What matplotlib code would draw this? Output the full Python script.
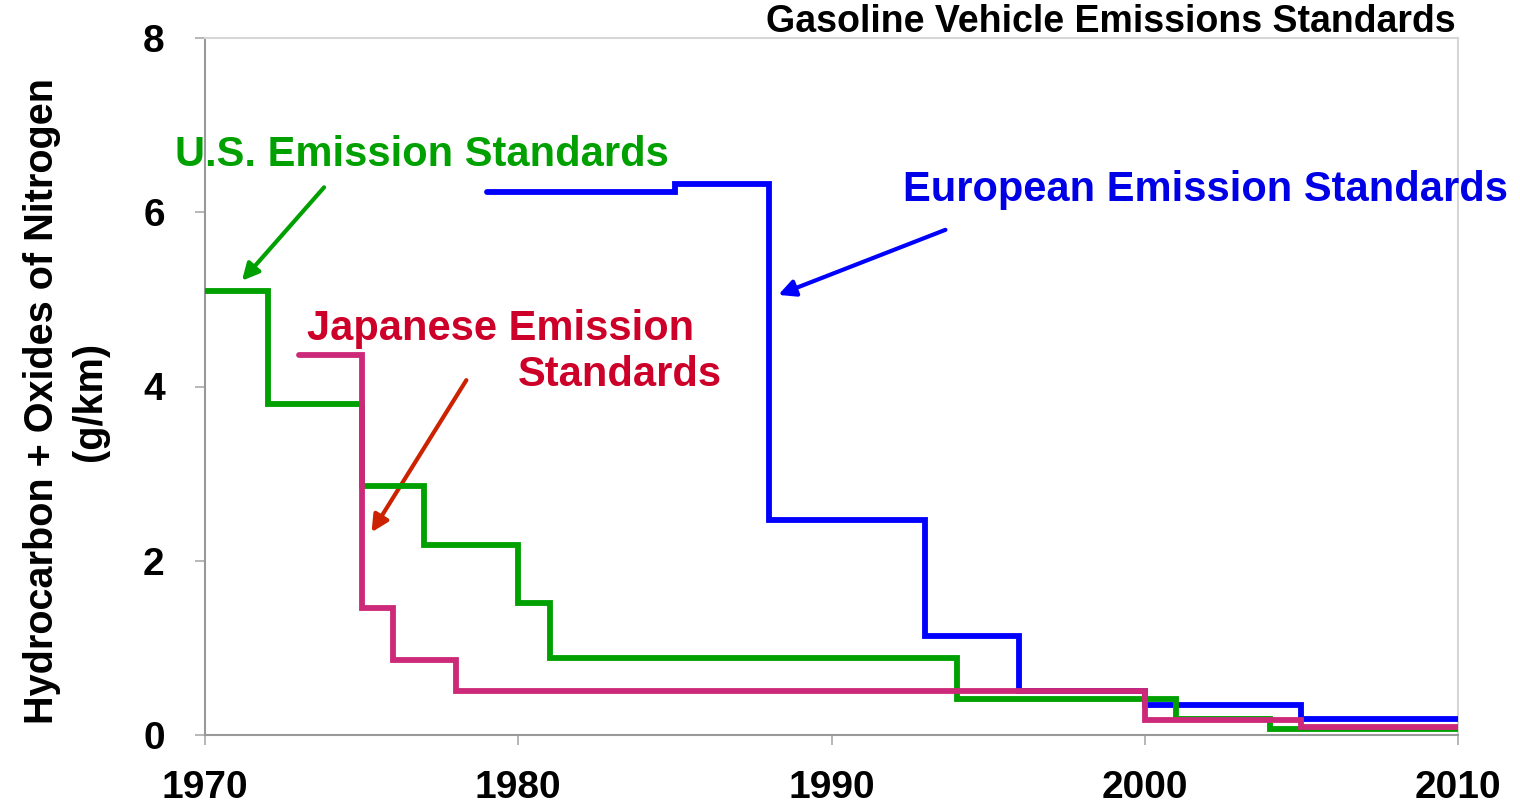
import numpy as np
import matplotlib.pyplot as plt

# step standards, HC + NOx (g/km); each value holds from its year to the next
us_years = [1970, 1972, 1975, 1977, 1980, 1981, 1994, 2001, 2004, 2010]
us_vals = [5.1, 3.8, 2.86, 2.18, 1.51, 0.88, 0.41, 0.18, 0.07, 0.07]

jp_years = [1973, 1975, 1976, 1978, 2000, 2005, 2010]
jp_vals = [4.36, 1.46, 0.86, 0.50, 0.17, 0.09, 0.09]

eu_years = [1979, 1985, 1988, 1993, 1996, 2000, 2005, 2010]
eu_vals = [6.23, 6.32, 2.47, 1.14, 0.50, 0.34, 0.18, 0.18]

x_ticks = [1970, 1980, 1990, 2000, 2010]
y_ticks = [0, 2, 4, 6, 8]

green = '#00a000'
blue = '#0000ff'
pink = '#cc2a78'
jp_text = '#cc0028'
jp_arrow = '#cc2200'

plt.rcParams['font.family'] = ['Liberation Sans', 'DejaVu Sans']

fig = plt.figure(figsize=(15.2, 8.06), dpi=100)
ax = fig.add_axes([205/1520, 1-735/806, (1458-205)/1520, (735-38)/806])

ax.step(eu_years, eu_vals, where='post', color=blue, lw=4.2,
        solid_capstyle='round', solid_joinstyle='miter', zorder=3)
ax.step(us_years, us_vals, where='post', color=green, lw=4.2,
        solid_capstyle='butt', solid_joinstyle='miter', zorder=4)
ax.step(jp_years, jp_vals, where='post', color=pink, lw=4.2,
        solid_capstyle='round', solid_joinstyle='miter', zorder=5)

ax.set_xlim(1970, 2010)
ax.set_ylim(0, 8)
ax.set_xticks(x_ticks)
ax.set_yticks(y_ticks)
ax.tick_params(axis='both', direction='out', color='#aaaaaa', width=1.2, length=7,
               labelsize=28, pad=18)
ax.tick_params(axis='y', pad=22)
for lab in ax.get_xticklabels() + ax.get_yticklabels():
    lab.set_fontweight('bold')

for s in ['left', 'bottom']:
    ax.spines[s].set_color('#999999')
    ax.spines[s].set_linewidth(1.5)
for s in ['top', 'right']:
    ax.spines[s].set_color('#d6d6d6')
    ax.spines[s].set_linewidth(1.5)

fig.text(0.0434, 0.502, 'Hydrocarbon + Oxides of Nitrogen\n(g/km)',
         rotation=90, ha='center', va='center', fontsize=28.5, fontweight='bold',
         linespacing=1.35)

fig.text(1456/1520, 1-22/806, 'Gasoline Vehicle Emissions Standards',
         ha='right', va='center', fontsize=27, fontweight='bold')

# labels and arrows
ax.text(1969.04, 6.66, 'U.S. Emission Standards', color=green, fontsize=30,
        fontweight='bold', ha='left', va='center', clip_on=False)
ax.annotate('', xy=(1971.12, 5.19), xytext=(1973.86, 6.31),
            arrowprops=dict(arrowstyle='-|>,head_length=1.0,head_width=0.5',
                            color=green, lw=3))

ax.text(1992.28, 6.26, 'European Emission Standards', color='#0000e6', fontsize=30,
        fontweight='bold', ha='left', va='center', clip_on=False)
ax.annotate('', xy=(1988.22, 5.04), xytext=(1993.72, 5.81),
            arrowprops=dict(arrowstyle='-|>,head_length=1.0,head_width=0.5',
                            color=blue, lw=3))

ax.text(1973.26, 4.66, 'Japanese Emission', color=jp_text, fontsize=30,
        fontweight='bold', ha='left', va='center')
ax.text(1979.99, 4.13, 'Standards', color=jp_text, fontsize=30,
        fontweight='bold', ha='left', va='center')
ax.annotate('', xy=(1975.27, 2.30), xytext=(1978.39, 4.10),
            arrowprops=dict(arrowstyle='-|>,head_length=1.0,head_width=0.5',
                            color=jp_arrow, lw=3))

fig.savefig('out.png', dpi=100, facecolor='white')
